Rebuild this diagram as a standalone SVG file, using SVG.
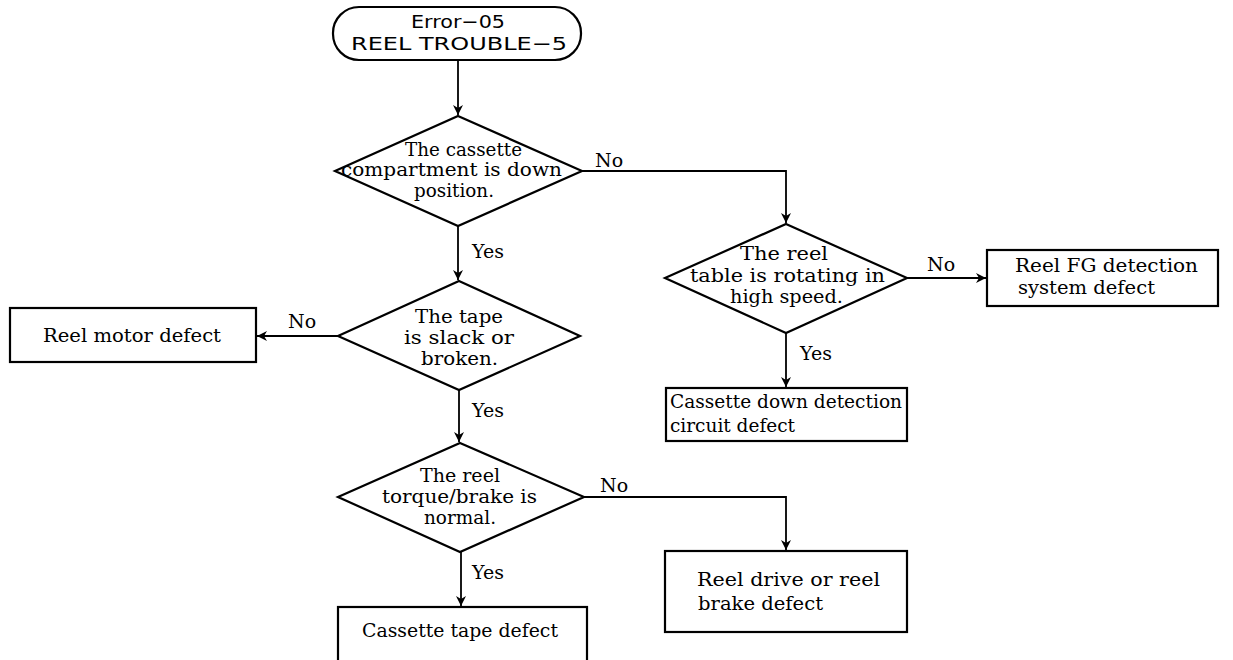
<svg xmlns="http://www.w3.org/2000/svg" width="1233" height="660" viewBox="0 0 1233 660">
<defs>
<style>
.shape{fill:#fff;stroke:#000;stroke-width:2.2}
.line{fill:none;stroke:#000;stroke-width:1.8}
.t{font-family:"DejaVu Serif","Liberation Serif",serif;font-size:18.5px;fill:#000}
.c{text-anchor:middle}
.lbl{font-family:"DejaVu Serif","Liberation Serif",serif;font-size:19px;fill:#000}
.term{font-family:"DejaVu Sans","Liberation Sans",sans-serif;font-size:18px;fill:#000}
</style>
<marker id="ah" viewBox="0 0 10 10" refX="10" refY="5" markerWidth="12" markerHeight="10" markerUnits="userSpaceOnUse" orient="auto">
<path d="M0,0 L10,5 L0,10 L3,5 Z" fill="#000"/>
</marker>
</defs>
<rect width="1233" height="660" fill="#fff"/>

<g id="start">
<rect class="shape" x="333" y="7" width="248" height="53" rx="26" ry="26"/>
<text class="term" x="411" y="28" textLength="94" lengthAdjust="spacingAndGlyphs">Error−05</text>
<text class="term" x="351" y="50" textLength="216" lengthAdjust="spacingAndGlyphs">REEL TROUBLE−5</text>
</g>

<g id="d1">
<polygon class="shape" points="458,116 582,171 458,226 335,171"/>
<text class="t" x="405" y="156" textLength="117" lengthAdjust="spacingAndGlyphs">The cassette</text>
<text class="t" x="341" y="176" textLength="221" lengthAdjust="spacingAndGlyphs">compartment is down</text>
<text class="t" x="414" y="197" textLength="80" lengthAdjust="spacingAndGlyphs">position.</text>
</g>

<g id="d2">
<polygon class="shape" points="786,224 907,278 786,333 665,278"/>
<text class="t" x="740" y="260" textLength="88" lengthAdjust="spacingAndGlyphs">The reel</text>
<text class="t" x="690" y="282" textLength="195" lengthAdjust="spacingAndGlyphs">table is rotating in</text>
<text class="t" x="730" y="303" textLength="113" lengthAdjust="spacingAndGlyphs">high speed.</text>
</g>

<g id="fg">
<rect class="shape" x="987" y="250" width="231" height="56"/>
<text class="t" x="1015" y="272" textLength="183" lengthAdjust="spacingAndGlyphs">Reel FG detection</text>
<text class="t" x="1018" y="294" textLength="137" lengthAdjust="spacingAndGlyphs">system defect</text>
</g>

<g id="cdown">
<rect class="shape" x="666" y="388" width="241" height="53"/>
<text class="t" x="670" y="408" textLength="232" lengthAdjust="spacingAndGlyphs">Cassette down detection</text>
<text class="t" x="670" y="432" textLength="125" lengthAdjust="spacingAndGlyphs">circuit defect</text>
</g>

<g id="d3">
<polygon class="shape" points="459,281 580,336 459,390 338,336"/>
<text class="t" x="415" y="323" textLength="88" lengthAdjust="spacingAndGlyphs">The tape</text>
<text class="t" x="404" y="344" textLength="110" lengthAdjust="spacingAndGlyphs">is slack or</text>
<text class="t" x="421" y="365" textLength="77" lengthAdjust="spacingAndGlyphs">broken.</text>
</g>

<g id="motor">
<rect class="shape" x="10" y="308" width="246" height="54"/>
<text class="t" x="43" y="342" textLength="178" lengthAdjust="spacingAndGlyphs">Reel motor defect</text>
</g>

<g id="d4">
<polygon class="shape" points="460,443 584,497 460,552 338,497"/>
<text class="t" x="420" y="482" textLength="80" lengthAdjust="spacingAndGlyphs">The reel</text>
<text class="t" x="382" y="503" textLength="155" lengthAdjust="spacingAndGlyphs">torque/brake is</text>
<text class="t" x="424" y="524" textLength="72" lengthAdjust="spacingAndGlyphs">normal.</text>
</g>

<g id="drive">
<rect class="shape" x="665" y="551" width="242" height="81"/>
<text class="t" x="697" y="586" textLength="183" lengthAdjust="spacingAndGlyphs">Reel drive or reel</text>
<text class="t" x="698" y="610" textLength="125" lengthAdjust="spacingAndGlyphs">brake defect</text>
</g>

<g id="tape">
<rect class="shape" x="338" y="607" width="249" height="60"/>
<text class="t" x="362" y="637" textLength="196" lengthAdjust="spacingAndGlyphs">Cassette tape defect</text>
</g>

<g id="connectors">
<path class="line" d="M458,60 L458,115" marker-end="url(#ah)"/>
<path class="line" d="M582,171 L786,171 L786,223" marker-end="url(#ah)"/>
<path class="line" d="M907,278 L986,278" marker-end="url(#ah)"/>
<path class="line" d="M786,333 L786,387" marker-end="url(#ah)"/>
<path class="line" d="M458,226 L458,280" marker-end="url(#ah)"/>
<path class="line" d="M338,336 L257,336" marker-end="url(#ah)"/>
<path class="line" d="M459,390 L459,442" marker-end="url(#ah)"/>
<path class="line" d="M584,497 L786,497 L786,550" marker-end="url(#ah)"/>
<path class="line" d="M461,552 L461,606" marker-end="url(#ah)"/>
</g>

<g id="labels">
<text class="lbl" x="595" y="167">No</text>
<text class="lbl" x="472" y="258">Yes</text>
<text class="lbl" x="927" y="271">No</text>
<text class="lbl" x="800" y="360">Yes</text>
<text class="lbl" x="288" y="328">No</text>
<text class="lbl" x="472" y="417">Yes</text>
<text class="lbl" x="600" y="492">No</text>
<text class="lbl" x="472" y="579">Yes</text>
</g>
</svg>
